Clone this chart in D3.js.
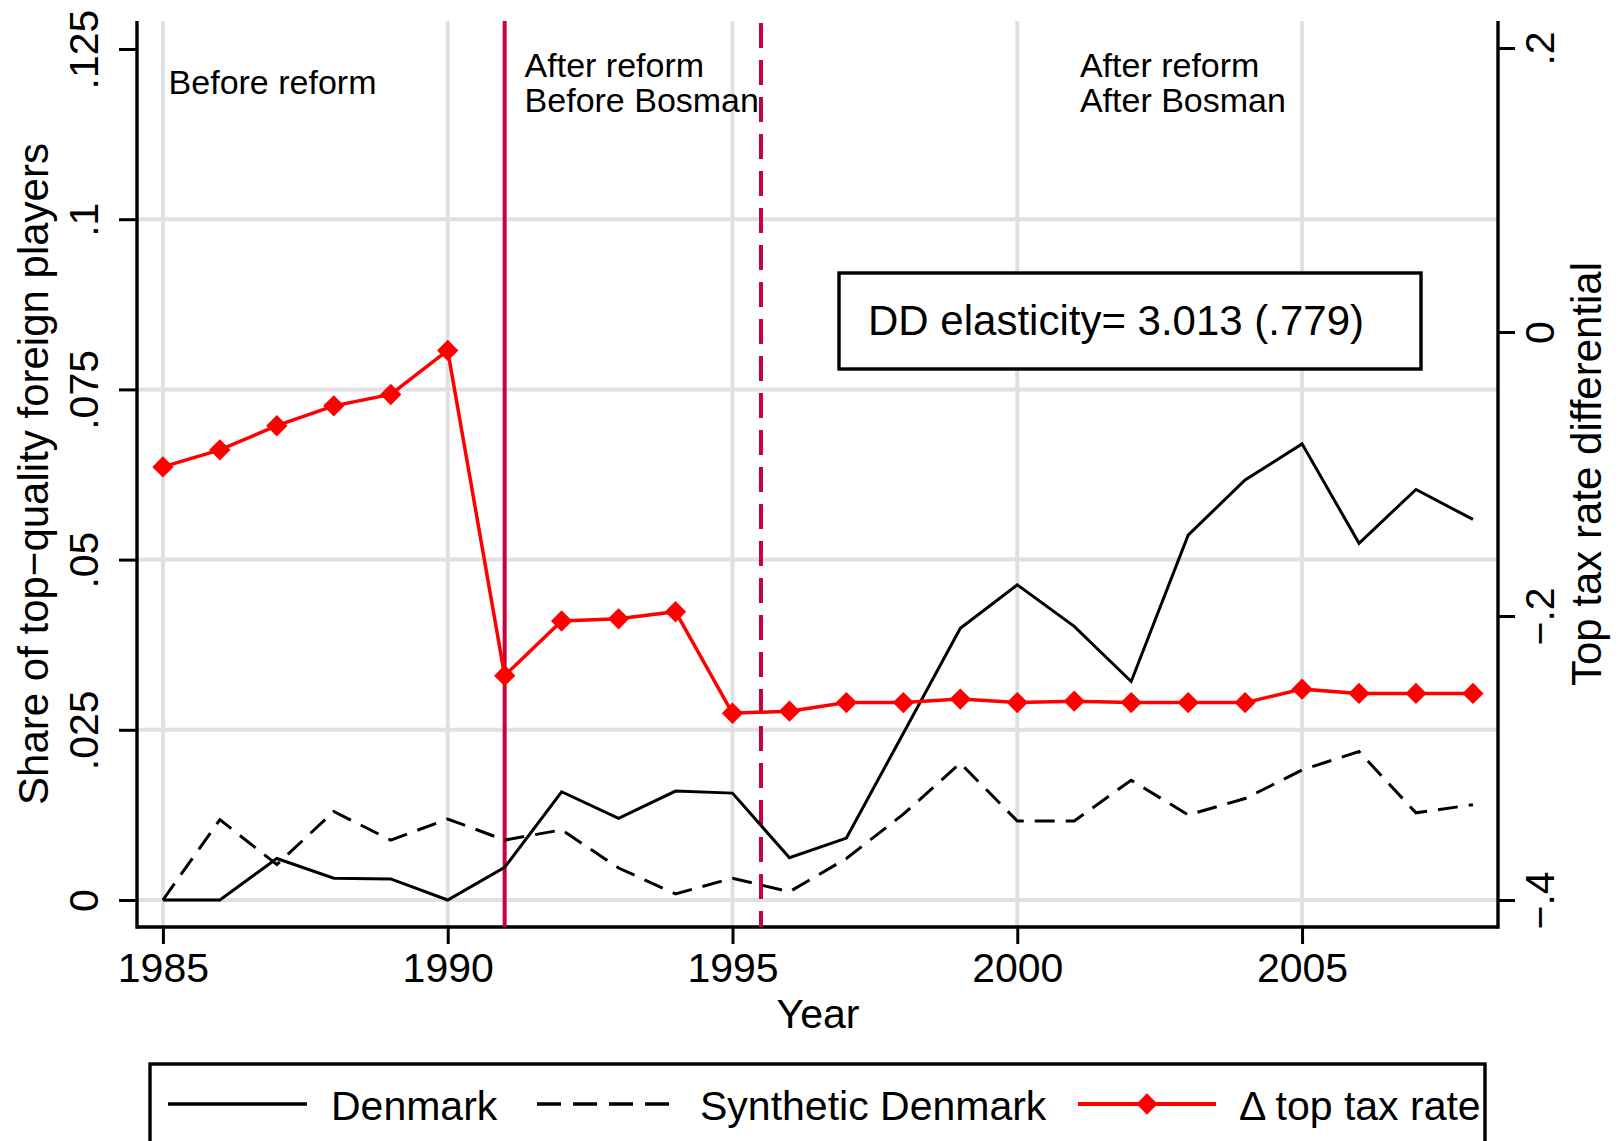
<!DOCTYPE html>
<html>
<head>
<meta charset="utf-8">
<script src="https://cdn.jsdelivr.net/npm/d3@7"></script>
<style>
  body { margin: 0; background: #fff; }
  svg { display: block; font-family: "Liberation Sans", Arial, sans-serif; }
</style>
</head>
<body>
<div id="chart"></div>
<script>
// data
const years = [1985, 1986, 1987, 1988, 1989, 1990, 1991, 1992, 1993, 1994, 1995, 1996,
  1997, 1998, 1999, 2000, 2001, 2002, 2003, 2004, 2005, 2006, 2007, 2008];
const denmark = [0, 0, 0.0061, 0.0032, 0.0031, 0, 0.0048, 0.0159, 0.012, 0.016, 0.0157, 0.0062,
  0.0091, 0.0245, 0.0399, 0.0463, 0.0402, 0.0321, 0.0536, 0.0617, 0.067, 0.0524, 0.0603, 0.0559];
const synthetic = [0, 0.0118, 0.0052, 0.013, 0.0088, 0.0119, 0.0088, 0.0103, 0.0047, 0.0009, 0.0032, 0.0012,
  0.0061, 0.0126, 0.0201, 0.0116, 0.0116, 0.0176, 0.0125, 0.0149, 0.0191, 0.0218, 0.0128, 0.014];
const taxDiff = [-0.095, -0.083, -0.066, -0.052, -0.044, -0.013, -0.242, -0.2035, -0.202, -0.197, -0.2685, -0.267,
  -0.261, -0.261, -0.2585, -0.261, -0.26, -0.261, -0.261, -0.261, -0.2515, -0.2545, -0.2545, -0.2545];

const xTicks = [1985, 1990, 1995, 2000, 2005];
const leftTicks = [0, 0.025, 0.05, 0.075, 0.1, 0.125];
const leftGrid = [0, 0.025, 0.05, 0.075, 0.1];
const rightTicks = [-0.4, -0.2, 0, 0.2];
const reformYear = 1991;
const bosmanYear = 1995.5;
const periodLabels = [
  { year: 1985.1, lines: ['Before reform'], y: 94 },
  { year: 1991.35, lines: ['After reform', 'Before Bosman'], y: 77 },
  { year: 2001.1, lines: ['After reform', 'After Bosman'], y: 77 },
];
const ddText = 'DD elasticity= 3.013 (.779)';
const legendItems = ['Denmark', 'Synthetic Denmark', '\u0394 top tax rate'];

const W = 1619, H = 1141;
const plot = { left: 137, right: 1498, top: 21, bottom: 927 };
const RED = '#ff0000', CRIMSON = '#c4043a', GRID = '#e0e0e0';

const svg = d3.select('#chart').append('svg')
  .attr('width', W).attr('height', H);

const x = d3.scaleLinear().domain([1984.545, 2008.44]).range([plot.left, plot.right]);
const yL = d3.scaleLinear().domain([0, 0.125]).range([900, 49]);
const yR = d3.scaleLinear().domain([-0.4, 0.2]).range([900, 48]);

const fmt = d => {
  const s = Math.abs(d).toString().replace(/^0\./, '.');
  return d < 0 ? '\u2212' + s : s;
};

// grid
const grid = svg.append('g');
grid.selectAll('.hg').data(leftGrid).join('line')
  .attr('x1', plot.left).attr('x2', plot.right)
  .attr('y1', d => yL(d)).attr('y2', d => yL(d))
  .attr('stroke', GRID).attr('stroke-width', 4);
grid.selectAll('.vg').data(xTicks).join('line')
  .attr('x1', d => x(d)).attr('x2', d => x(d))
  .attr('y1', plot.top).attr('y2', plot.bottom)
  .attr('stroke', GRID).attr('stroke-width', 4);

// axes
const axisStyle = (g) => {
  g.select('.domain').remove();
  g.selectAll('.tick line').attr('stroke', '#000').attr('stroke-width', 3);
  g.selectAll('.tick text').attr('fill', '#000').attr('font-size', 41);
};

svg.append('g')
  .attr('transform', `translate(0,${plot.bottom})`)
  .call(d3.axisBottom(x).tickValues(xTicks).tickFormat(d3.format('d')).tickSize(17).tickPadding(6))
  .call(axisStyle)
  .call(g => g.selectAll('.tick text').attr('dy', 0).attr('y', 55));

svg.append('g')
  .attr('transform', `translate(${plot.left},0)`)
  .call(d3.axisLeft(yL).tickValues(leftTicks).tickFormat(fmt).tickSize(18))
  .call(axisStyle)
  .call(g => g.selectAll('.tick text')
    .attr('x', null).attr('dy', null)
    .attr('text-anchor', 'middle')
    .attr('transform', 'translate(-39,0) rotate(-90)'));

svg.append('g')
  .attr('transform', `translate(${plot.right},0)`)
  .call(d3.axisRight(yR).tickValues(rightTicks).tickFormat(fmt).tickSize(17))
  .call(axisStyle)
  .call(g => g.selectAll('.tick text')
    .attr('x', null).attr('dy', null)
    .attr('text-anchor', 'middle')
    .attr('transform', 'translate(56,0) rotate(-90)'));

const frame = svg.append('g').attr('stroke', '#000').attr('stroke-width', 3.4);
frame.append('line').attr('x1', plot.left).attr('x2', plot.left).attr('y1', plot.top).attr('y2', plot.bottom + 1.7);
frame.append('line').attr('x1', plot.right).attr('x2', plot.right).attr('y1', plot.top).attr('y2', plot.bottom + 1.7);
frame.append('line').attr('x1', plot.left).attr('x2', plot.right).attr('y1', plot.bottom).attr('y2', plot.bottom);

// axis titles
svg.append('text')
  .attr('transform', `translate(48,${(plot.top + plot.bottom) / 2}) rotate(-90)`)
  .attr('text-anchor', 'middle').attr('font-size', 42)
  .text('Share of top\u2212quality foreign players');
svg.append('text')
  .attr('transform', `translate(1601,${(plot.top + plot.bottom) / 2}) rotate(-90)`)
  .attr('text-anchor', 'middle').attr('font-size', 42)
  .text('Top tax rate differential');
svg.append('text')
  .attr('x', 818).attr('y', 1028)
  .attr('text-anchor', 'middle').attr('font-size', 41)
  .text('Year');

// reform lines
svg.append('line')
  .attr('x1', x(reformYear)).attr('x2', x(reformYear))
  .attr('y1', plot.top).attr('y2', plot.bottom)
  .attr('stroke', CRIMSON).attr('stroke-width', 4);
svg.append('line')
  .attr('x1', x(bosmanYear)).attr('x2', x(bosmanYear))
  .attr('y1', plot.top + 2).attr('y2', plot.bottom)
  .attr('stroke', CRIMSON).attr('stroke-width', 4)
  .attr('stroke-dasharray', '25,12');

// period labels
periodLabels.forEach(p => {
  const t = svg.append('text')
    .attr('x', x(p.year)).attr('y', p.y)
    .attr('font-size', 34);
  p.lines.forEach((l, i) => {
    t.append('tspan').attr('x', x(p.year)).attr('dy', i === 0 ? 0 : 35).text(l);
  });
});

// series
const rows = years.map((yr, i) => ({ yr, dk: denmark[i], syn: synthetic[i], tax: taxDiff[i] }));

svg.append('path')
  .datum(rows)
  .attr('fill', 'none').attr('stroke', '#000').attr('stroke-width', 3)
  .attr('stroke-dasharray', '20,11')
  .attr('d', d3.line().x(d => x(d.yr)).y(d => yL(d.syn)));

svg.append('path')
  .datum(rows)
  .attr('fill', 'none').attr('stroke', '#000').attr('stroke-width', 3)
  .attr('d', d3.line().x(d => x(d.yr)).y(d => yL(d.dk)));

svg.append('path')
  .datum(rows)
  .attr('fill', 'none').attr('stroke', RED).attr('stroke-width', 3.5)
  .attr('d', d3.line().x(d => x(d.yr)).y(d => yR(d.tax)));

const diamond = d3.symbol().type(d3.symbolDiamond2).size(290);
svg.selectAll('.dia').data(rows).join('path')
  .attr('transform', d => `translate(${x(d.yr)},${yR(d.tax)})`)
  .attr('d', diamond)
  .attr('fill', RED);

// DD box
svg.append('rect')
  .attr('x', 839).attr('y', 273).attr('width', 582).attr('height', 96)
  .attr('fill', '#fff').attr('stroke', '#000').attr('stroke-width', 3.4);
svg.append('text')
  .attr('x', 868).attr('y', 335).attr('font-size', 42)
  .text(ddText);

// legend
const leg = svg.append('g');
const ly = 1104;
leg.append('rect')
  .attr('x', 150).attr('y', 1064).attr('width', 1335).attr('height', 120)
  .attr('fill', '#fff');
leg.append('line').attr('x1', 168).attr('x2', 307).attr('y1', ly).attr('y2', ly)
  .attr('stroke', '#000').attr('stroke-width', 3.4);
leg.append('line').attr('x1', 537).attr('x2', 672).attr('y1', ly).attr('y2', ly)
  .attr('stroke', '#000').attr('stroke-width', 3.4).attr('stroke-dasharray', '24,12');
leg.append('line').attr('x1', 1078).attr('x2', 1216).attr('y1', ly).attr('y2', ly)
  .attr('stroke', RED).attr('stroke-width', 4);
leg.append('path').attr('transform', `translate(1147,${ly})`).attr('d', diamond).attr('fill', RED);
const legX = [331, 700, 1239];
legendItems.forEach((t, i) => {
  leg.append('text').attr('x', legX[i]).attr('y', 1120).attr('font-size', 41).text(t);
});
leg.append('rect')
  .attr('x', 150).attr('y', 1064).attr('width', 1335).attr('height', 120)
  .attr('fill', 'none').attr('stroke', '#000').attr('stroke-width', 3.4);
</script>
</body>
</html>
